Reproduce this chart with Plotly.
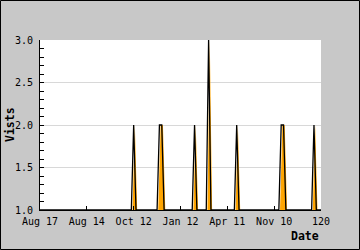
import plotly.graph_objects as go

# x index 0..120
day_index = list(range(121))
visits = [
    1, 1, 1, 1, 1, 1, 1, 1, 1, 1,  # 0-9
    1, 1, 1, 1, 1, 1, 1, 1, 1, 1,  # 10-19
    1, 1, 1, 1, 1, 1, 1, 1, 1, 1,  # 20-29
    1, 1, 1, 1, 1, 1, 1, 1, 1, 1,  # 30-39
    2, 1, 1, 1, 1, 1, 1, 1, 1, 1,  # 40-49
    1, 2, 2, 1, 1, 1, 1, 1, 1, 1,  # 50-59
    1, 1, 1, 1, 1, 1, 2, 1, 1, 1,  # 60-69
    1, 1, 3, 1, 1, 1, 1, 1, 1, 1,  # 70-79
    1, 1, 1, 1, 2, 1, 1, 1, 1, 1,  # 80-89
    1, 1, 1, 1, 1, 1, 1, 1, 1, 1,  # 90-99
    1, 1, 1, 2, 2, 1, 1, 1, 1, 1,  # 100-109
    1, 1, 1, 1, 1, 1, 1, 2, 1, 1,  # 110-119
    1,                             # 120
]
tick_positions = [0, 20, 40, 60, 80, 100, 120]
tick_labels = ["Aug 17", "Aug 14", "Oct 12", "Jan 12", "Apr 11", "Nov 10", "120"]

W, H = 360, 250
L, R, T, B = 40, 39, 40, 40
pw, ph = W - L - R, H - T - B

fig = go.Figure()
# orange area, drawn slightly offset to the right of the outline as in the original
fig.add_trace(go.Scatter(
    x=[d + 0.5 for d in day_index], y=visits, mode="lines", fill="tozeroy",
    fillcolor="#ffa500", line=dict(color="rgba(0,0,0,0)", width=0),
    hoverinfo="skip", showlegend=False,
))
fig.add_trace(go.Scatter(
    x=day_index, y=visits, mode="lines",
    line=dict(color="black", width=1.3),
    hoverinfo="skip", showlegend=False,
))

font = dict(family="DejaVu Sans Mono", size=10, color="black")
fig.update_layout(
    width=W, height=H, margin=dict(l=L, r=R, t=T, b=B, pad=0),
    paper_bgcolor="#c8c8c8", plot_bgcolor="white", font=font,
    showlegend=False,
    xaxis=dict(
        range=[0, 120], tickvals=tick_positions, ticktext=tick_labels,
        ticks="inside", ticklen=4, tickcolor="black", tickwidth=1,
        showline=True, linecolor="black", linewidth=1, showgrid=False,
        zeroline=False, tickfont=font, ticklabelstandoff=2,
    ),
    yaxis=dict(
        range=[1, 3], tickvals=[1.0, 1.5, 2.0, 2.5, 3.0],
        ticktext=["1.0", "1.5", "2.0", "2.5", "3.0"],
        ticks="inside", ticklen=4, tickcolor="black", tickwidth=1,
        minor=dict(dtick=0.1, ticks="inside", ticklen=4, tickcolor="black",
                   showgrid=False),
        showline=True, linecolor="black", linewidth=1,
        showgrid=True, gridcolor="#d8d8d8", gridwidth=1,
        zeroline=False, tickfont=font, ticklabelstandoff=4,
    ),
    annotations=[
        dict(text="<b>Vists</b>", xref="paper", yref="paper",
             x=(10 - L) / pw, y=(H - B - 125) / ph, textangle=-90,
             showarrow=False, xanchor="center", yanchor="middle",
             font=dict(family="DejaVu Sans Mono", size=11.5, color="black")),
        dict(text="<b>Date</b>", xref="paper", yref="paper",
             x=1.0, y=(H - B - 236) / ph,
             showarrow=False, xanchor="right", yanchor="middle",
             font=dict(family="DejaVu Sans Mono", size=11.5, color="black")),
    ],
    shapes=[
        dict(type="rect", xref="paper", yref="paper",
             x0=(-L + 0.5) / pw, x1=(pw + R - 0.5) / pw,
             y0=(-B + 0.5) / ph, y1=(ph + T - 0.5) / ph,
             line=dict(color="black", width=1), fillcolor="rgba(0,0,0,0)",
             layer="above"),
    ],
)

fig.write_html("out.html")
